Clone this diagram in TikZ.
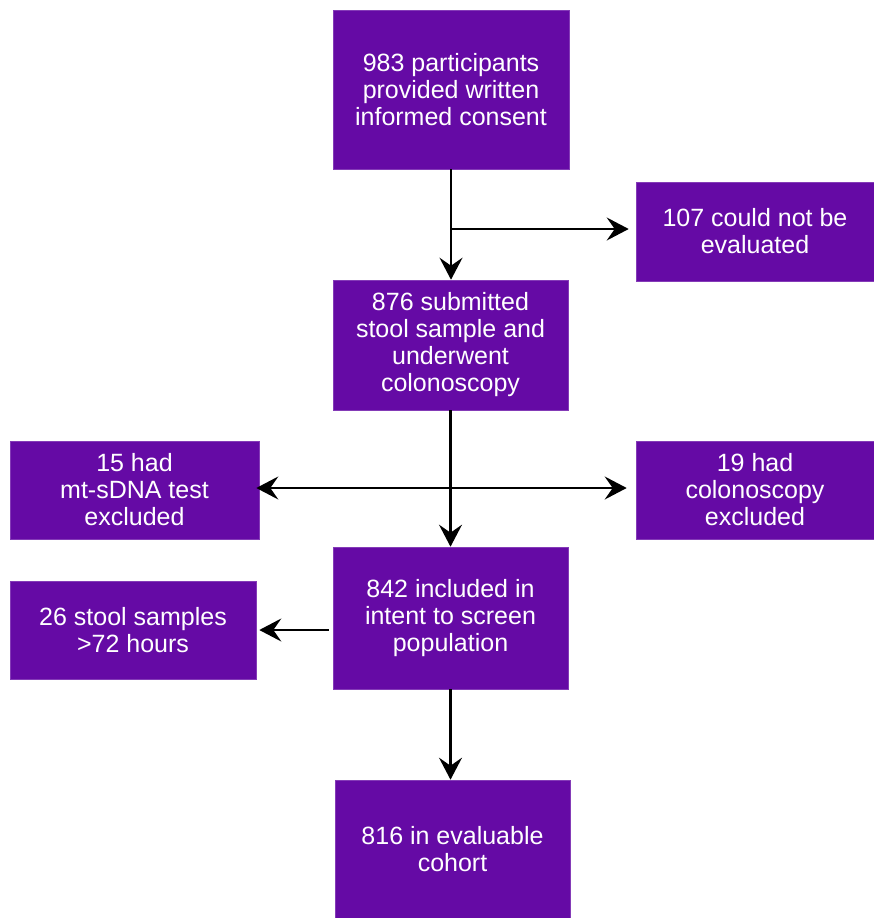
\documentclass[tikz,border=0pt]{standalone}
\usepackage{fontspec}
\setmainfont{Liberation Sans}
\usetikzlibrary{arrows.meta}
\definecolor{boxpurple}{HTML}{650AA5}
\begin{document}
\begin{tikzpicture}[x=1pt,y=-1pt,
  box/.style={fill=boxpurple,draw=boxpurple!80!white,line width=0.6pt,text=white,align=center,
    inner sep=0pt,font=\fontsize{25}{27}\selectfont},
  tip/.style={},
  conn/.style={line width=2.2pt,-{Stealth[length=22pt,width=23pt,inset=8pt]}},
  dconn/.style={line width=2.2pt,{Stealth[length=22pt,width=23pt,inset=8pt]}-{Stealth[length=22pt,width=23pt,inset=8pt]}}]
\useasboundingbox (0,0) rectangle (874,918);
\node[box,minimum width=236pt,minimum height=159pt] (b1) at (451,89.5) {983 participants\\provided written\\informed consent};
\node[box,minimum width=238pt,minimum height=99pt] (b2) at (755,231.5) {107 could not be\\evaluated};
\node[box,minimum width=235pt,minimum height=130pt] (b3) at (450.5,345) {876 submitted\\stool sample and\\underwent\\colonoscopy};
\node[box,minimum width=249pt,minimum height=98pt] (b4) at (134.5,490) {15 had\\mt-sDNA test\\excluded};
\node[box,minimum width=238pt,minimum height=98pt] (b5) at (755,490) {19 had\\colonoscopy\\excluded};
\node[box,minimum width=235pt,minimum height=142pt] (b6) at (450.5,618) {842 included in\\intent to screen\\population};
\node[box,minimum width=246pt,minimum height=98pt] (b7) at (133,630) {26 stool samples\\>72 hours};
\node[box,minimum width=235pt,minimum height=138pt] (b8) at (452.5,849) {816 in evaluable\\cohort};
\coordinate (j1) at (451,229);
\coordinate (j2) at (450,488);
\draw[conn] (b1.south) -- (b1.south |- b3.north);
\draw[conn,shorten >=7pt] (j1) -- (j1 -| b2.west);
\draw[conn] (b3.south) -- (b3.south |- b6.north);
\draw[dconn,shorten >=9pt,shorten <=-3pt] (j2 -| b4.east) -- (j2 -| b5.west);
\draw[conn,shorten <=4pt,shorten >=3pt] (b6.west |- b7.east) -- (b7.east);
\draw[conn] (b6.south) -- (b6.south |- b8.north);
\end{tikzpicture}
\end{document}
